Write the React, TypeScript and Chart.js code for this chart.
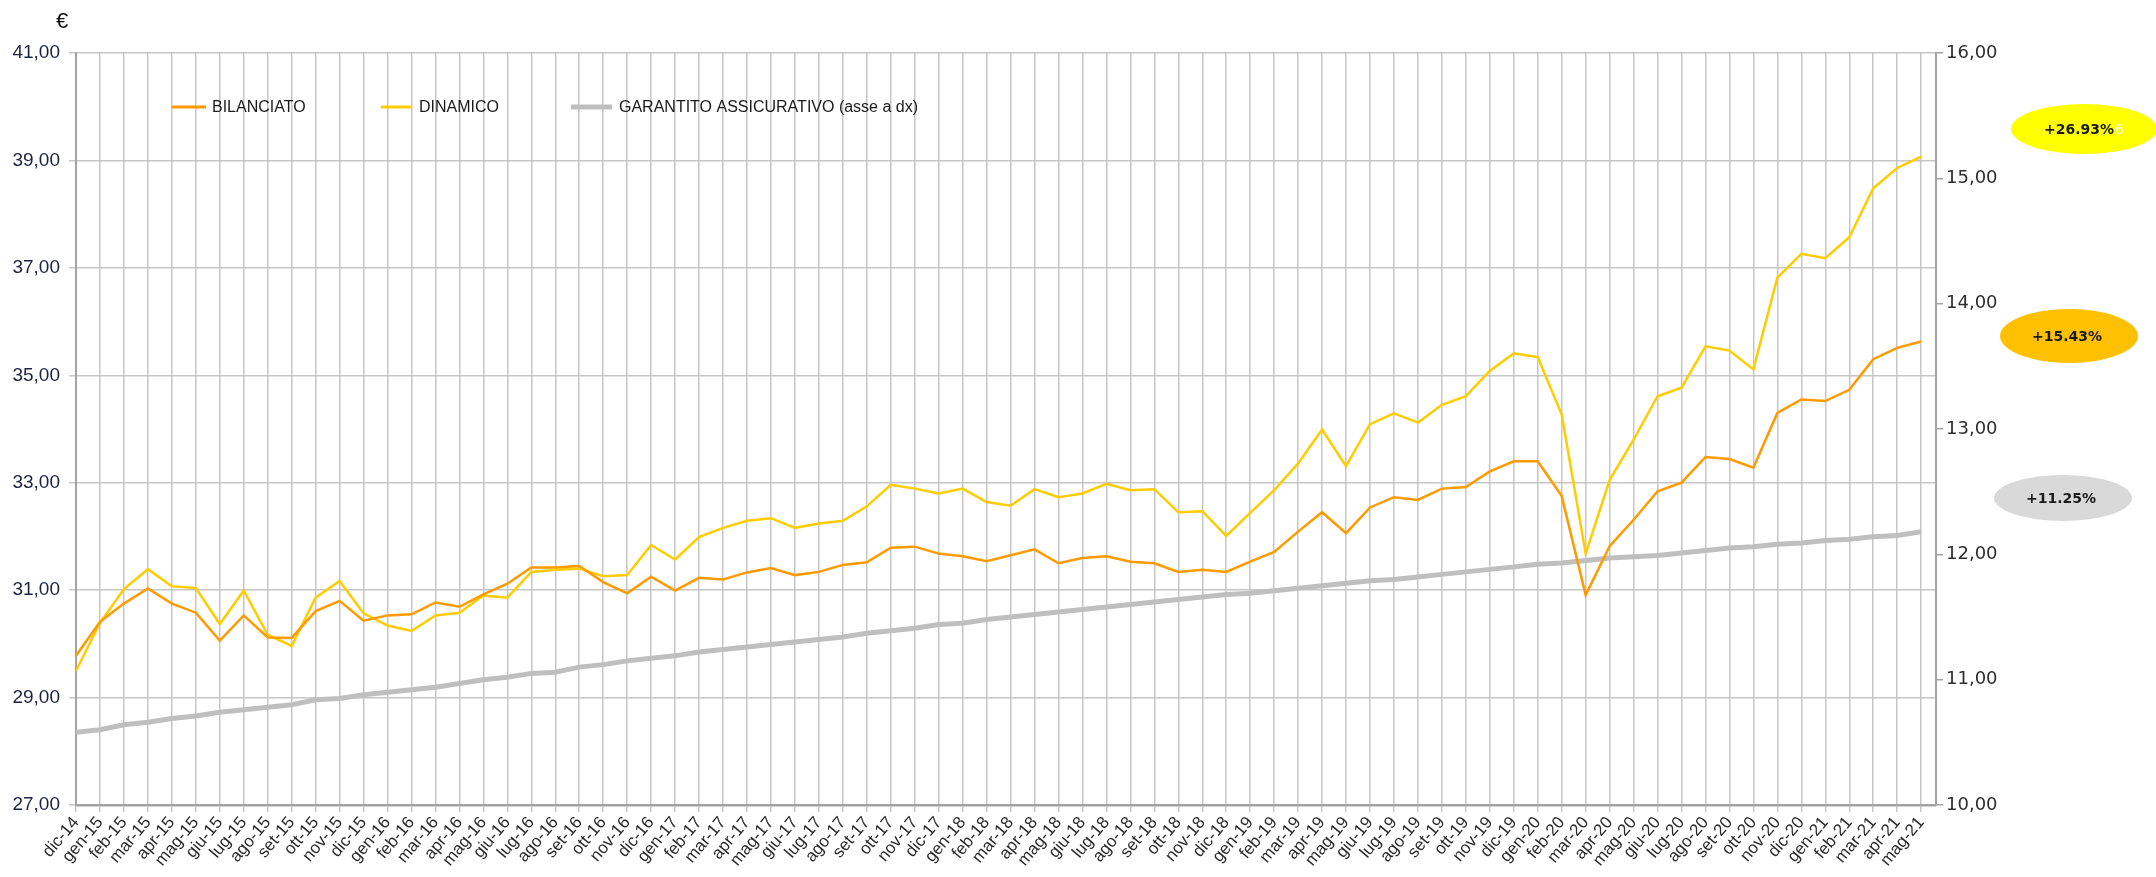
import React, { useEffect, useRef } from "react";
import { Chart, registerables } from "chart.js";

Chart.register(...registerables);

const monthLabels = [
  "dic-14",
  "gen-15", "feb-15", "mar-15", "apr-15", "mag-15", "giu-15", "lug-15", "ago-15", "set-15", "ott-15", "nov-15", "dic-15",
  "gen-16", "feb-16", "mar-16", "apr-16", "mag-16", "giu-16", "lug-16", "ago-16", "set-16", "ott-16", "nov-16", "dic-16",
  "gen-17", "feb-17", "mar-17", "apr-17", "mag-17", "giu-17", "lug-17", "ago-17", "set-17", "ott-17", "nov-17", "dic-17",
  "gen-18", "feb-18", "mar-18", "apr-18", "mag-18", "giu-18", "lug-18", "ago-18", "set-18", "ott-18", "nov-18", "dic-18",
  "gen-19", "feb-19", "mar-19", "apr-19", "mag-19", "giu-19", "lug-19", "ago-19", "set-19", "ott-19", "nov-19", "dic-19",
  "gen-20", "feb-20", "mar-20", "apr-20", "mag-20", "giu-20", "lug-20", "ago-20", "set-20", "ott-20", "nov-20", "dic-20",
  "gen-21", "feb-21", "mar-21", "apr-21", "mag-21",
];

const bilanciato = [
  29.78, 30.41, 30.75, 31.03, 30.75, 30.58, 30.06, 30.53, 30.12, 30.11, 30.61, 30.80, 30.43,
  30.53, 30.55, 30.77, 30.69, 30.92, 31.12, 31.42, 31.42, 31.45, 31.15, 30.94, 31.25,
  30.99, 31.23, 31.20, 31.33, 31.41, 31.28, 31.34, 31.47, 31.52, 31.79, 31.81, 31.68,
  31.63, 31.54, 31.65, 31.76, 31.50, 31.60, 31.63, 31.53, 31.50, 31.34, 31.38, 31.34,
  31.53, 31.71, 32.09, 32.45, 32.06, 32.54, 32.73, 32.68, 32.89, 32.92, 33.21, 33.40,
  33.40, 32.75, 30.91, 31.82, 32.31, 32.84, 33.00, 33.48, 33.44, 33.28, 34.30, 34.55,
  34.52, 34.73, 35.30, 35.51, 35.63,
];

const dinamico = [
  29.50, 30.39, 31.02, 31.39, 31.07, 31.04, 30.37, 30.99, 30.17, 29.96, 30.86, 31.17, 30.57,
  30.34, 30.24, 30.53, 30.58, 30.90, 30.86, 31.34, 31.38, 31.40, 31.26, 31.28, 31.84,
  31.57, 31.99, 32.16, 32.29, 32.34, 32.16, 32.24, 32.29, 32.56, 32.96, 32.89, 32.80,
  32.89, 32.64, 32.57, 32.88, 32.73, 32.80, 32.98, 32.86, 32.88, 32.45, 32.47, 32.01,
  32.44, 32.86, 33.36, 33.99, 33.31, 34.09, 34.29, 34.12, 34.45, 34.61, 35.08, 35.41,
  35.34, 34.27, 31.68, 33.05, 33.80, 34.61, 34.77, 35.54, 35.46, 35.11, 36.82, 37.26,
  37.18, 37.57, 38.48, 38.86, 39.07,
];

const garantito = [
  10.58, 10.60, 10.64, 10.66, 10.69, 10.71, 10.74, 10.76, 10.78, 10.80, 10.84, 10.85, 10.88,
  10.90, 10.92, 10.94, 10.97, 11.00, 11.02, 11.05, 11.06, 11.10, 11.12, 11.15, 11.17,
  11.19, 11.22, 11.24, 11.26, 11.28, 11.30, 11.32, 11.34, 11.37, 11.39, 11.41, 11.44,
  11.45, 11.48, 11.50, 11.52, 11.54, 11.56, 11.58, 11.60, 11.62, 11.64, 11.66, 11.68,
  11.69, 11.71, 11.73, 11.75, 11.77, 11.79, 11.80, 11.82, 11.84, 11.86, 11.88, 11.90,
  11.92, 11.93, 11.95, 11.97, 11.98, 11.99, 12.01, 12.03, 12.05, 12.06, 12.08, 12.09,
  12.11, 12.12, 12.14, 12.15, 12.18,
];

const seriesNames = ["BILANCIATO", "DINAMICO", "GARANTITO ASSICURATIVO (asse a dx)"];
const seriesColors = ["#ff9a00", "#ffcc00", "#bfbfbf"];
const badgeTexts = ["+26.93%", "+15.43%", "+11.25%"];
const badgeColors = ["#ffff00", "#ffc000", "#d9d9d9"];
const badgeGhostText = "6";
const currencyLabel = "€";
const leftAxisMin = 27;
const leftAxisMax = 41;
const leftAxisStep = 2;
const rightAxisMin = 10;
const rightAxisMax = 16;
const rightAxisStep = 1;

const fmt = (v: number) => v.toFixed(2).replace(".", ",");
const toPoints = (arr: number[]) => arr.map((v, i) => ({ x: i, y: v }));

export default function App() {
  const ref = useRef<HTMLCanvasElement | null>(null);

  useEffect(() => {
    document.body.style.margin = "0";
    const canvas = ref.current;
    if (!canvas) return;

    const overlay = {
      id: "overlay",
      afterDraw(chart: any) {
        const ctx = chart.ctx as CanvasRenderingContext2D;
        ctx.save();
        // currency symbol
        ctx.fillStyle = "#111";
        ctx.font = "22px 'Liberation Sans', Arial, sans-serif";
        ctx.textAlign = "center";
        ctx.textBaseline = "middle";
        ctx.fillText(currencyLabel, 62, 22);

        // legend
        const legendPos = [
          { x0: 172, x1: 206, tx: 212, w: 3 },
          { x0: 381, x1: 412, tx: 419, w: 3 },
          { x0: 571, x1: 612, tx: 619, w: 5 },
        ];
        const ly = 107;
        ctx.font = "16px 'Liberation Sans', Arial, sans-serif";
        ctx.textAlign = "left";
        ctx.textBaseline = "middle";
        legendPos.forEach((p, i) => {
          ctx.strokeStyle = seriesColors[i];
          ctx.lineWidth = p.w;
          ctx.lineCap = "butt";
          ctx.beginPath();
          ctx.moveTo(p.x0, ly);
          ctx.lineTo(p.x1, ly);
          ctx.stroke();
          ctx.fillStyle = "#1a1a1a";
          ctx.fillText(seriesNames[i], p.tx, ly + 1);
        });

        // badges
        const badgePos = [
          { cx: 2084, cy: 129, rx: 73, ry: 25 },
          { cx: 2069, cy: 336, rx: 69, ry: 27 },
          { cx: 2063, cy: 498, rx: 69, ry: 23 },
        ];
        const badgeFont = "bold 14px 'DejaVu Sans', Verdana, sans-serif";
        ctx.font = badgeFont;
        badgePos.forEach((b, i) => {
          ctx.fillStyle = badgeColors[i];
          ctx.beginPath();
          ctx.ellipse(b.cx, b.cy, b.rx, b.ry, 0, 0, Math.PI * 2);
          ctx.fill();
          ctx.fillStyle = "#1a1a1a";
          ctx.textAlign = "center";
          const tx = i === 0 ? 2079 : b.cx - 2;
          ctx.fillText(badgeTexts[i], tx, b.cy + 1);
          if (i === 0) {
            const w = ctx.measureText(badgeTexts[i]).width;
            ctx.textAlign = "left";
            ctx.fillStyle = "rgba(255,255,255,0.85)";
            ctx.font = "14px 'DejaVu Sans', Verdana, sans-serif";
            ctx.fillText(badgeGhostText, tx + w / 2 + 1, b.cy + 1);
            ctx.font = badgeFont;
          }
        });
        ctx.restore();
      },
    };

    const gridColor = "#c6c6c6";
    const axisColor = "#a3a3a3";

    const chart = new Chart(canvas, {
      type: "line",
      data: {
        datasets: [
          {
            label: seriesNames[0],
            data: toPoints(bilanciato),
            borderColor: seriesColors[0],
            backgroundColor: seriesColors[0],
            borderWidth: 2.5,
            pointRadius: 0,
            tension: 0,
            yAxisID: "y",
          },
          {
            label: seriesNames[1],
            data: toPoints(dinamico),
            borderColor: seriesColors[1],
            backgroundColor: seriesColors[1],
            borderWidth: 2.5,
            pointRadius: 0,
            tension: 0,
            yAxisID: "y",
          },
          {
            label: seriesNames[2],
            data: toPoints(garantito),
            borderColor: seriesColors[2],
            backgroundColor: seriesColors[2],
            borderWidth: 5,
            pointRadius: 0,
            tension: 0,
            yAxisID: "y1",
          },
        ],
      },
      options: {
        responsive: false,
        animation: false,
        devicePixelRatio: 1,
        layout: { padding: { top: 53, left: 0, right: 0, bottom: 0 } },
        plugins: {
          legend: { display: false },
          tooltip: { enabled: false },
        },
        scales: {
          x: {
            type: "linear",
            min: 0,
            max: monthLabels.length - 1 + 0.62,
            afterFit: (scale: any) => {
              scale.height = 72;
            },
            ticks: {
              stepSize: 1,
              includeBounds: false,
              autoSkip: false,
              minRotation: 50,
              maxRotation: 50,
              padding: 1,
              color: "#2a2a2a",
              font: { family: "'Liberation Sans', Arial, sans-serif", size: 17 },
              callback: (v: any) => monthLabels[Number(v)] ?? "",
            },
            grid: { color: gridColor, lineWidth: 1.5, tickLength: 7, drawTicks: true },
            border: { color: axisColor, width: 2.5 },
          },
          y: {
            position: "left",
            min: leftAxisMin,
            max: leftAxisMax,
            afterFit: (scale: any) => {
              scale.width = 76;
            },
            ticks: {
              stepSize: leftAxisStep,
              padding: 9,
              color: "#1c2340",
              font: { family: "'Liberation Sans', Arial, sans-serif", size: 19 },
              callback: (v: any) => fmt(Number(v)),
            },
            grid: { color: gridColor, lineWidth: 1.5, tickLength: 7 },
            border: { color: axisColor, width: 2 },
          },
          y1: {
            position: "right",
            min: rightAxisMin,
            max: rightAxisMax,
            afterFit: (scale: any) => {
              scale.width = 220;
            },
            ticks: {
              stepSize: rightAxisStep,
              padding: 3,
              color: "#2e2e2e",
              font: { family: "'DejaVu Sans', Verdana, sans-serif", size: 18 },
              callback: (v: any) => fmt(Number(v)),
            },
            grid: { drawOnChartArea: false, color: axisColor, lineWidth: 1.5, tickLength: 7 },
            border: { color: axisColor, width: 2 },
          },
        },
      } as any,
      plugins: [overlay],
    });

    return () => chart.destroy();
  }, []);

  return (
    <div style={{ width: 2156, height: 877, background: "#fff", overflow: "hidden" }}>
      <canvas ref={ref} width={2156} height={877} style={{ display: "block" }} />
    </div>
  );
}
